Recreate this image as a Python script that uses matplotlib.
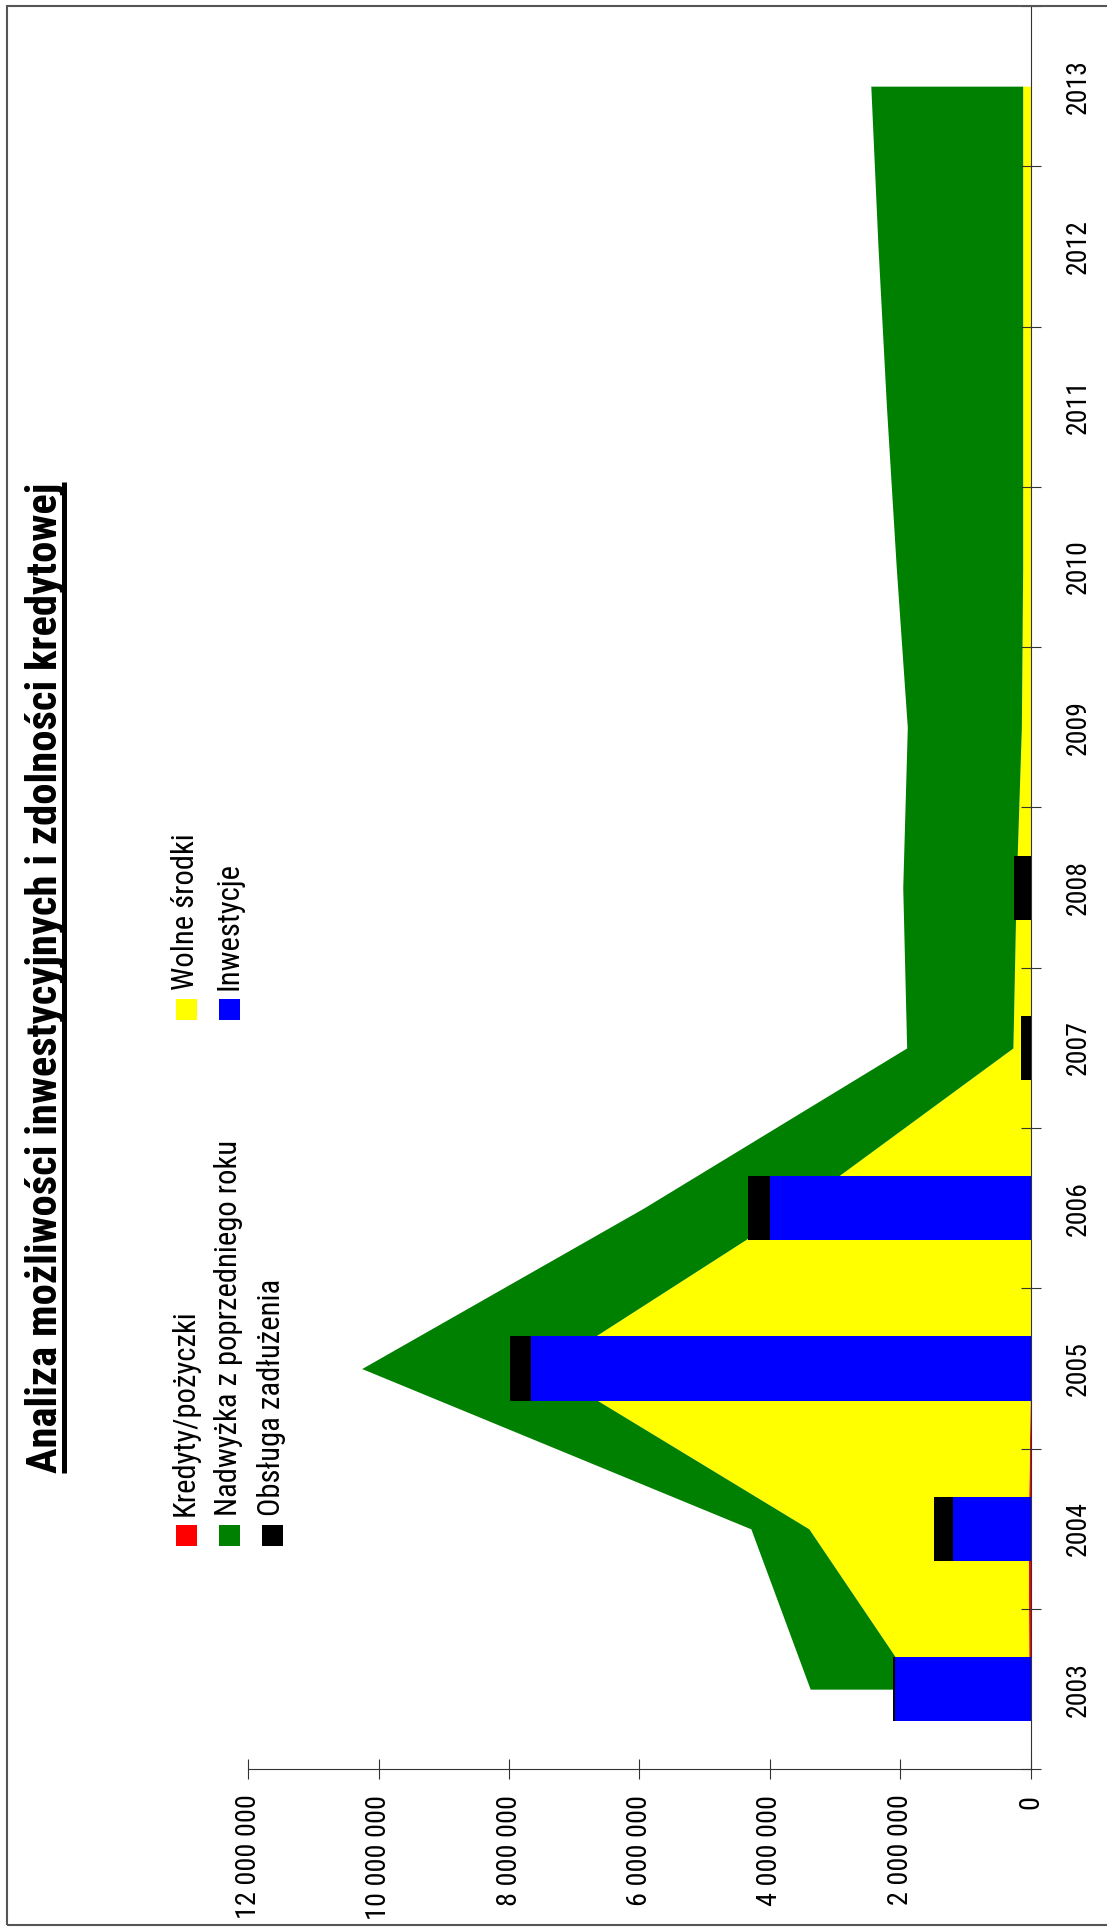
import numpy as np
import matplotlib
matplotlib.use('Agg')  # bez GUI
import matplotlib.pyplot as plt
from matplotlib.patches import Rectangle
from matplotlib.lines import Line2D
from matplotlib.ticker import FixedLocator, FuncFormatter

# dane (zł)
years = [2003, 2004, 2005, 2006, 2007, 2008, 2009, 2010, 2011, 2012, 2013]
kredyty = [25000, 35000, 0, 0, 0, 0, 0, 0, 0, 0, 0]
wolne_srodki = [1715000, 3365000, 7450000, 3620000, 270000, 220000, 140000, 120000, 120000, 120000, 120000]
nadwyzka = [1640000, 890000, 2810000, 2320000, 1630000, 1740000, 1750000, 1940000, 2090000, 2220000, 2330000]
inwestycje = [2080000, 1195000, 7670000, 3990000, 0, 0, 0, 0, 0, 0, 0]
obsluga = [25000, 287000, 320000, 350000, 140000, 250000, 0, 0, 0, 0, 0]
value_ticks = [0, 2000000, 4000000, 6000000, 8000000, 10000000, 12000000]

title = "Analiza możliwości inwestycyjnych i zdolności kredytowej"
legend_col1 = [("Kredyty/pożyczki", "#FF0000"),
               ("Nadwyżka z poprzedniego roku", "#008000"),
               ("Obsługa zadłużenia", "#000000")]
legend_col2 = [("Wolne środki", "#FFFF00"),
               ("Inwestycje", "#0000FF")]

# wąska czcionka (oryginał to Arial Narrow)
plt.rcParams['font.family'] = ['Roboto Condensed', 'Liberation Sans', 'DejaVu Sans']

W, H = 1107, 1930
fig = plt.figure(figsize=(W / 100, H / 100), dpi=100)
renderer = fig.canvas.get_renderer()


def fx(px):
    return px / W


def fy(py):
    return 1 - py / H


def fit_size(text, target_px, weight='normal', base=20):
    # dobiera rozmiar tak, by długość napisu zgadzała się z oryginałem
    tmp = fig.text(0, 0, text, fontsize=base, fontweight=weight)
    w = tmp.get_window_extent(renderer).width
    tmp.remove()
    return base * target_px / w


fs_tick = fit_size("12 000 000", 125)
fs_year = fit_size("2003", 55)
fs_leg = (fit_size("Kredyty/pożyczki", 206) + fit_size("Wolne środki", 157)) / 2
fs_title = fit_size(title, 989, weight='bold')

# wykres obrócony o 90 stopni: lata w pionie, wartości w poziomie (odwrócone)
ax = fig.add_axes([fx(248.3), fy(1769.3), fx(1030.5) - fx(248.3), fy(6) - fy(1769.3)])

y = np.array(years)
lvl1 = np.array(kredyty)
lvl2 = lvl1 + np.array(wolne_srodki)
lvl3 = lvl2 + np.array(nadwyzka)
ax.fill_betweenx(y, 0, lvl1, color='#FF0000', lw=0, zorder=1)
ax.fill_betweenx(y, lvl1, lvl2, color='#FFFF00', lw=0, zorder=1)
ax.fill_betweenx(y, lvl2, lvl3, color='#008000', lw=0, zorder=1)

ax.barh(y, inwestycje, height=0.4, color='#0000FF', lw=0, zorder=3)
ax.barh(y, obsluga, left=inwestycje, height=0.4, color='#000000', lw=0, zorder=3)

ax.set_xlim(12000000, 0)
ax.set_ylim(2002.5, 2013.5)
ax.set_facecolor('none')
for s in ['left', 'top']:
    ax.spines[s].set_visible(False)
for s in ['bottom', 'right']:
    ax.spines[s].set_color('#333333')
    ax.spines[s].set_linewidth(0.8)

ax.xaxis.set_major_locator(FixedLocator(value_ticks))
ax.xaxis.set_major_formatter(FuncFormatter(lambda v, p: f"{int(v):,}".replace(',', ' ')))
ax.tick_params(axis='x', direction='inout', length=14.4, width=0.8, color='#333333',
               labelrotation=90, labelsize=fs_tick, pad=11)

ax.yaxis.tick_right()
ax.yaxis.set_major_locator(FixedLocator(years))
ax.yaxis.set_minor_locator(FixedLocator([v - 0.5 for v in years] + [years[-1] + 0.5]))
ax.tick_params(axis='y', which='major', length=0, labelrotation=90, labelsize=fs_year, pad=24.5)
ax.tick_params(axis='y', which='minor', direction='inout', length=14.4, width=0.8,
               color='#333333', right=True, left=False)
for lab in ax.get_yticklabels():
    lab.set_verticalalignment('center')

# ramka obszaru wykresu
fig.add_artist(Rectangle((fx(7), fy(1925)), 1.2, fy(6) - fy(1925), transform=fig.transFigure,
                         fill=False, edgecolor='#555555', lw=1.5))

# tytuł z podkreśleniem
t = fig.text(fx(57), fy(977.5), title, rotation=90, rotation_mode='anchor', ha='center',
             va='baseline', fontsize=fs_title, fontweight='bold')

# legenda
for col, y_top in [(legend_col1, 1525), (legend_col2, 999)]:
    for i, (label, color) in enumerate(col):
        x0 = 176 + i * 43.2
        fig.add_artist(Rectangle((fx(x0), fy(y_top + 21)), fx(21), fy(y_top) - fy(y_top + 21),
                                 transform=fig.transFigure, color=color, lw=0))
        fig.text(fx(x0 + 18), fy(y_top - 9), label, rotation=90, rotation_mode='anchor',
                 ha='left', va='baseline', fontsize=fs_leg)

fig.canvas.draw()
bb = t.get_window_extent()
fig.add_artist(Line2D([fx(64), fx(64)], [bb.y0 / H, bb.y1 / H], transform=fig.transFigure,
                      color='black', lw=3.6, solid_capstyle='butt'))

fig.savefig('out.png', dpi=100)
plt.close(fig)
